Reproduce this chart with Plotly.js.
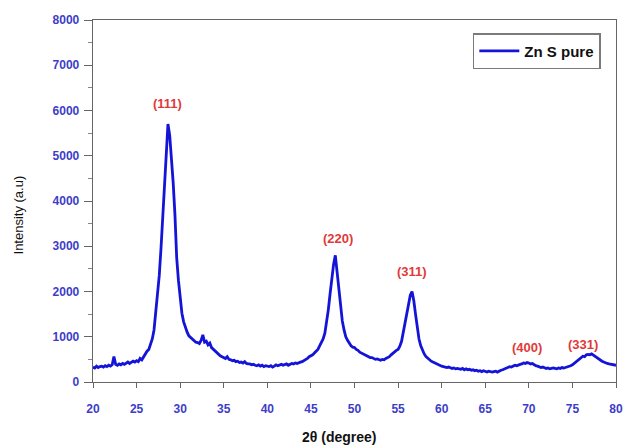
<!DOCTYPE html>
<html>
<head>
<meta charset="utf-8">
<script src="https://cdn.plot.ly/plotly-3.0.1.min.js"></script>
<style>html,body{margin:0;padding:0;background:#fff;}#chart{width:624px;height:447px;}</style>
</head>
<body>
<div id="chart"></div>
<script>
// 2θ grid start and step (degrees)
const twoThetaStart = 20;
const twoThetaStep = 0.2;

// Intensity readings (a.u.), one every 0.2°, 20.0 → 80.0
const intensity = [
  330, 310, 350, 320, 340,   // 20
  350, 330, 360, 340, 370,   // 21
  350, 380, 560, 390, 370,   // 22
  400, 380, 410, 390, 420,   // 23
  440, 410, 430, 460, 440,   // 24
  470, 450, 520, 490, 560,   // 25
  620, 680, 720, 850, 950,   // 26
  1150, 1500, 1850, 2350, 2950, // 27
  3650, 4550, 5250, 5700, 5450, // 28
  5000, 4400, 3700, 2750, 2250, // 29
  1850, 1520, 1330, 1200, 1100, // 30
  1020, 980, 940, 900, 880,  // 31
  870, 850, 920, 1040, 880,  // 32
  900, 820, 860, 760, 720,   // 33
  680, 640, 600, 580, 560,   // 34
  540, 520, 560, 500, 490,   // 35
  470, 480, 450, 460, 430,   // 36
  440, 420, 450, 410, 400,   // 37
  400, 380, 390, 370, 360,   // 38
  380, 350, 370, 340, 360,   // 39
  350, 340, 360, 330, 350,   // 40
  380, 360, 370, 390, 370,   // 41
  380, 400, 370, 390, 410,   // 42
  400, 420, 410, 430, 440,   // 43
  450, 470, 500, 520, 560,   // 44
  580, 600, 640, 680, 720,   // 45
  800, 860, 950, 1080, 1300, // 46
  1600, 1950, 2350, 2600, 2800, // 47
  2450, 2000, 1660, 1350, 1150, // 48
  1000, 920, 850, 800, 770,  // 49
  760, 720, 700, 660, 640,   // 50
  620, 600, 580, 560, 540,   // 51
  540, 520, 500, 510, 490,   // 52
  480, 500, 490, 520, 540,   // 53
  560, 600, 640, 680, 700,   // 54
  720, 790, 900, 1100, 1300, // 55
  1550, 1750, 1920, 2000, 1800, // 56
  1500, 1200, 950, 800, 700, // 57
  620, 560, 520, 480, 460,   // 58
  440, 420, 400, 380, 370,   // 59
  350, 340, 330, 320, 330,   // 60
  310, 300, 310, 290, 300,   // 61
  290, 280, 300, 270, 290,   // 62
  270, 280, 260, 270, 250,   // 63
  260, 240, 250, 230, 250,   // 64
  240, 220, 240, 230, 220,   // 65
  230, 240, 220, 250, 260,   // 66
  270, 290, 300, 320, 340,   // 67
  330, 350, 370, 360, 380,   // 68
  390, 400, 420, 410, 430,   // 69
  420, 400, 410, 380, 360,   // 70
  350, 340, 320, 330, 310,   // 71
  300, 310, 290, 300, 310,   // 72
  300, 290, 310, 300, 320,   // 73
  310, 320, 330, 340, 360,   // 74
  380, 410, 450, 480, 520,   // 75
  540, 570, 560, 600, 610,   // 76
  600, 620, 590, 570, 540,   // 77
  500, 480, 460, 440, 420,   // 78
  410, 400, 390, 380, 370,   // 79
  370                        // 80
];

const seriesName = 'Zn S pure';

// Peak labels
const peakLabels = ['(111)', '(220)', '(311)', '(400)', '(331)'];
const peakLabelX = [28.6, 48.1, 56.6, 69.8, 76.2];
const peakLabelY = [6150, 3180, 2450, 770, 820];

const xTickVals = [20, 25, 30, 35, 40, 45, 50, 55, 60, 65, 70, 75, 80];
const yTickVals = [0, 1000, 2000, 3000, 4000, 5000, 6000, 7000, 8000];

const tickFont = {family: 'Arial, Liberation Sans, sans-serif', size: 12, color: '#3d3dc8', weight: 'bold'};

const trace = {
  type: 'scatter',
  mode: 'lines',
  name: seriesName,
  x0: twoThetaStart,
  dx: twoThetaStep,
  y: intensity,
  line: {color: '#1414d8', width: 2.8}
};

const annotations = peakLabels.map((t, i) => ({
  x: peakLabelX[i], y: peakLabelY[i], xref: 'x', yref: 'y',
  text: t, showarrow: false,
  font: {family: 'Arial, Liberation Sans, sans-serif', size: 13, color: '#e03a3a', weight: 'bold'}
}));

annotations.push({
  xref: 'paper', yref: 'paper', x: 0.47, y: 0, yshift: -55,
  xanchor: 'center', yanchor: 'middle',
  text: '2θ (degree)', showarrow: false,
  font: {family: 'Arial, Liberation Sans, sans-serif', size: 14, color: '#111', weight: 'bold'}
});

annotations.push({
  xref: 'paper', yref: 'paper', x: 0, xshift: -75, y: 0.46,
  xanchor: 'center', yanchor: 'middle', textangle: -90,
  text: 'Intensity (a.u)', showarrow: false,
  font: {family: 'Arial, Liberation Sans, sans-serif', size: 13, color: '#111'}
});

const layout = {
  width: 624, height: 447,
  margin: {l: 93, r: 8, t: 20, b: 65},
  paper_bgcolor: '#fff', plot_bgcolor: '#fff',
  showlegend: true,
  legend: {
    x: 0.971, y: 0.964, xanchor: 'right', yanchor: 'top',
    bordercolor: '#7a7a7a', borderwidth: 1.5, bgcolor: '#fff',
    font: {family: 'Arial, Liberation Sans, sans-serif', size: 15, color: '#111', weight: 'bold'},
    itemwidth: 40
  },
  xaxis: {
    range: [20, 80], tickvals: xTickVals,
    showgrid: false, zeroline: false,
    showline: true, linecolor: '#666', linewidth: 1.3, mirror: true,
    ticks: 'outside', ticklen: 5, tickcolor: '#666', tickwidth: 1,
    ticklabelstandoff: 10,
    tickfont: tickFont
  },
  yaxis: {
    range: [0, 8000], tickvals: yTickVals,
    showgrid: false, zeroline: false,
    showline: true, linecolor: '#666', linewidth: 1.3, mirror: true,
    ticks: 'outside', ticklen: 8, tickcolor: '#666', tickwidth: 1,
    minor: {dtick: 500, ticks: 'outside', ticklen: 4, tickcolor: '#888'},
    ticklabelstandoff: 2,
    tickfont: tickFont
  },
  annotations: annotations
};

Plotly.newPlot('chart', [trace], layout, {displayModeBar: false, staticPlot: true});
</script>
</body>
</html>
